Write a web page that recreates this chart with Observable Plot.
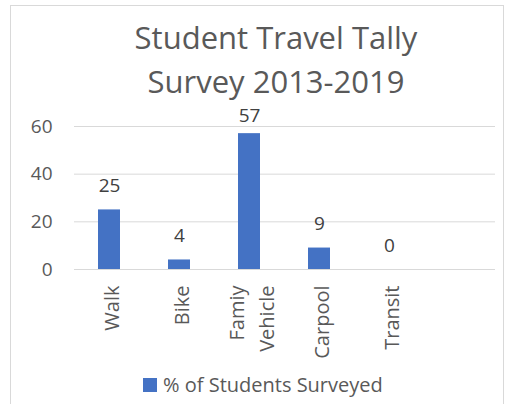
<!DOCTYPE html>
<html>
<head>
<meta charset="utf-8">
<script src="https://cdn.jsdelivr.net/npm/d3@7"></script>
<script src="https://cdn.jsdelivr.net/npm/@observablehq/plot@0.6"></script>
<style>
  body { margin: 0; background: #fff; font-family: "Open Sans", sans-serif; }
  #frame { position: absolute; left: 10px; top: 5px; width: 494px; height: 420px; border: 1px solid #d9d9d9; box-sizing: border-box; }
  #title { position: absolute; left: 0; width: 552px; top: 15px; text-align: center; color: #595959; font-size: 31px; line-height: 44px; }
  #chart { position: absolute; left: 0; top: 100px; }
  #legend { position: absolute; left: 143px; top: 371px; color: #595959; font-size: 20px; display: flex; align-items: center; }
  #legend .sw { width: 14px; height: 14px; background: #4472C4; margin-right: 6px; }
</style>
</head>
<body>
<div id="frame"></div>
<div id="title">Student Travel Tally<br>Survey 2013-2019</div>
<div id="chart"></div>
<div id="legend"><span class="sw"></span><span>% of Students Surveyed</span></div>
<script>
const categories = ["Walk", "Bike", "Famiy\nVehicle", "Carpool", "Transit"];
const values = [25, 4, 57, 9, 0];
const yTicks = [0, 20, 40, 60];

const data = categories.map((c, i) => ({category: c, value: values[i]}));
const domain = [...categories, ""];

const plot = Plot.plot({
  width: 506,
  height: 270,
  marginLeft: 74,
  marginRight: 11,
  marginTop: 26,
  marginBottom: 101,
  style: {fontFamily: "Open Sans, sans-serif", fontSize: "19px", color: "#595959", background: "transparent", overflow: "visible"},
  x: {domain, paddingInner: 0.6857, paddingOuter: 0.343, axis: null},
  y: {domain: [0, 60], ticks: yTicks, tickSize: 0, tickPadding: 22, label: null, grid: false},
  marks: [
    Plot.gridY(yTicks, {stroke: "#d9d9d9", strokeOpacity: 1, strokeWidth: 1}),
    Plot.barY(data, {x: "category", y: "value", fill: "#4472C4"}),
    Plot.text(data.filter(d => d.value < 50), {x: "category", y: "value", text: d => String(d.value), dy: -24, fill: "#404040", fontSize: 19}),
    Plot.text(data.filter(d => d.value >= 50), {x: "category", y: "value", text: d => String(d.value), dy: -18, fill: "#404040", fontSize: 19}),
    Plot.text(data, {x: "category", frameAnchor: "bottom", text: "category", rotate: -90, textAnchor: "end", lineAnchor: "middle", lineHeight: 1.5, dy: 16, fill: "#595959", fontSize: 20}),
    Plot.axisY({ticks: yTicks, tickSize: 0, tickPadding: 22, label: null, fill: "#595959", fontSize: 19})
  ]
});
document.getElementById("chart").appendChild(plot);
</script>
</body>
</html>
